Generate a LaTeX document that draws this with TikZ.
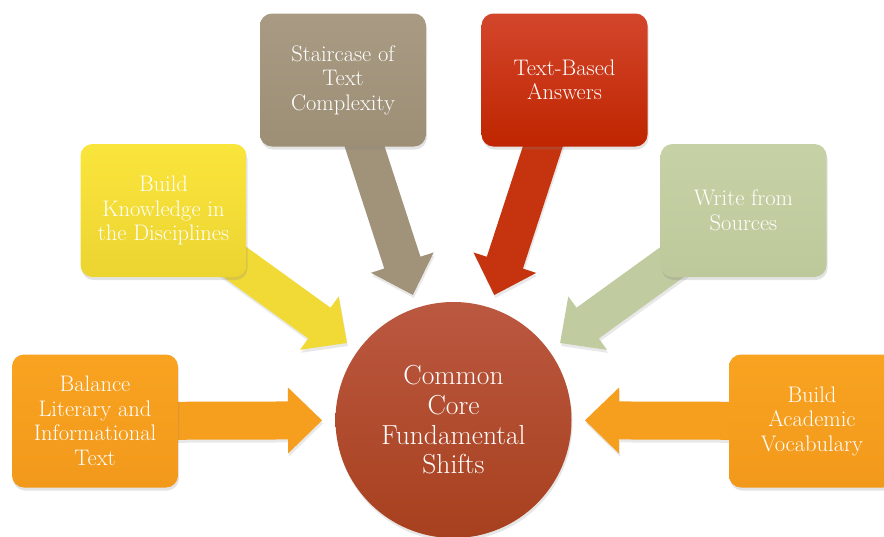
\documentclass[tikz,border=0pt]{standalone}
\usetikzlibrary{calc,shadows,backgrounds}
\definecolor{orTop}{HTML}{F9A321}
\definecolor{orBot}{HTML}{F2991B}
\definecolor{orArr}{HTML}{F69E1E}
\definecolor{yeTop}{HTML}{FAE53C}
\definecolor{yeBot}{HTML}{ECD431}
\definecolor{yeArr}{HTML}{F1DA36}
\definecolor{taTop}{HTML}{A99B83}
\definecolor{taBot}{HTML}{9D8F76}
\definecolor{taArr}{HTML}{A1937A}
\definecolor{reTop}{HTML}{D3462C}
\definecolor{reBot}{HTML}{BF2500}
\definecolor{reArr}{HTML}{C5330F}
\definecolor{saTop}{HTML}{C6D1A5}
\definecolor{saBot}{HTML}{BDC99B}
\definecolor{saArr}{HTML}{C0CB9F}
\definecolor{ciTop}{HTML}{BB5840}
\definecolor{ciBot}{HTML}{A7401E}
\newcommand{\myblockarrow}[3]{%
  \coordinate (neck) at ($(#2)!34pt!(#1)$);
  \fill[#3, arrowshadow]
    ($(#1)!19pt!90:(#2)$) -- ($(neck)!19pt!-90:(#1)$) -- ($(neck)!33pt!-90:(#1)$)
    -- (#2) -- ($(neck)!33pt!90:(#1)$) -- ($(neck)!19pt!90:(#1)$)
    -- ($(#1)!19pt!-90:(#2)$) -- cycle;}
\begin{document}
\begin{tikzpicture}[x=1pt,y=-1pt,
  shiftbox/.style={rounded corners=12pt, minimum width=166pt, minimum height=133pt,
    inner sep=0pt, text=white, align=center,
    font=\fontsize{22.5}{24.5}\selectfont,
    drop shadow={shadow xshift=1pt, shadow yshift=-3pt, opacity=0.22}},
  arrowshadow/.style={drop shadow={shadow xshift=1pt, shadow yshift=-3pt, opacity=0.18}},
  corecircle/.style={circle, minimum size=236pt, inner sep=0pt, text=white, align=center,
    font=\fontsize{27.5}{29.6}\selectfont, top color=ciTop, bottom color=ciBot,
    drop shadow={shadow xshift=1pt, shadow yshift=-3pt, opacity=0.2}}]
\useasboundingbox (0,0) rectangle (884,536);
\node[shiftbox, top color=orTop, bottom color=orBot] (b1) at (95,421) {Balance\\Literary and\\Informational\\Text};
\node[shiftbox, top color=yeTop, bottom color=yeBot] (b2) at (163.5,210.5) {Build\\Knowledge in\\the Disciplines};
\node[shiftbox, top color=taTop, bottom color=taBot] (b3) at (343,80) {Staircase of\\Text\\Complexity};
\node[shiftbox, top color=reTop, bottom color=reBot] (b4) at (564.5,80) {Text-Based\\Answers};
\node[shiftbox, top color=saTop, bottom color=saBot] (b5) at (743.5,210.5) {Write from\\Sources};
\node[shiftbox, top color=orTop, bottom color=orBot] (b6) at (812,421) {Build\\Academic\\Vocabulary};
\node[corecircle] (core) at (453.5,420) {Common\\Core\\Fundamental\\Shifts};
\foreach \i in {1,...,6} {\coordinate (t\i) at ($(core.center)!131.5pt!(b\i.center)$);}
\begin{scope}[on background layer]
  \myblockarrow{b1.center}{t1}{orArr}
  \myblockarrow{b2.center}{t2}{yeArr}
  \myblockarrow{b3.center}{t3}{taArr}
  \myblockarrow{b4.center}{t4}{reArr}
  \myblockarrow{b5.center}{t5}{saArr}
  \myblockarrow{b6.center}{t6}{orArr}
\end{scope}
\end{tikzpicture}
\end{document}
